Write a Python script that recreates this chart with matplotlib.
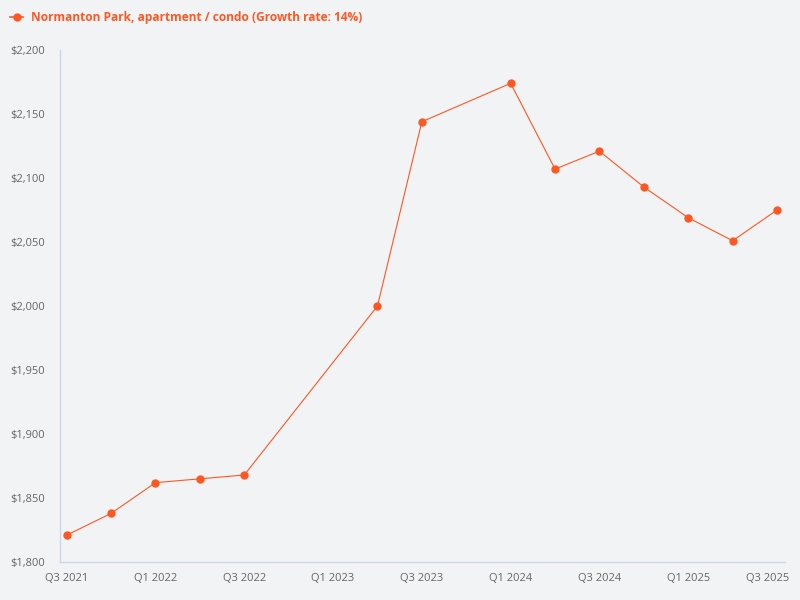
import matplotlib
matplotlib.use("Agg")
import matplotlib.pyplot as plt
from matplotlib.lines import Line2D
import matplotlib.transforms as mtransforms

plt.rcParams['font.family'] = ['Open Sans', 'DejaVu Sans']

quarters = ["Q3 2021", "Q4 2021", "Q1 2022", "Q2 2022", "Q3 2022", "Q4 2022",
            "Q1 2023", "Q2 2023", "Q3 2023", "Q4 2023", "Q1 2024", "Q2 2024",
            "Q3 2024", "Q4 2024", "Q1 2025", "Q2 2025", "Q3 2025"]
data_quarters = ["Q3 2021", "Q4 2021", "Q1 2022", "Q2 2022", "Q3 2022",
                 "Q2 2023", "Q3 2023", "Q1 2024", "Q2 2024", "Q3 2024",
                 "Q4 2024", "Q1 2025", "Q2 2025", "Q3 2025"]
prices = [1821, 1838, 1862, 1865, 1868, 2000, 2144, 2174, 2107, 2121,
          2093, 2069, 2051, 2075]
y_ticks = [1800, 1850, 1900, 1950, 2000, 2050, 2100, 2150, 2200]
x_tick_labels = ["Q3 2021", "Q1 2022", "Q3 2022", "Q1 2023", "Q3 2023",
                 "Q1 2024", "Q3 2024", "Q1 2025", "Q3 2025"]
series_name = "Normanton Park, apartment / condo (Growth rate: 14%)"

color = "#ff5722"
bg = "#f2f3f5"

fig = plt.figure(figsize=(8, 6), dpi=100, facecolor=bg)
ax = fig.add_axes([0.075, 0.0633, 0.90625, 0.8533], facecolor=bg)

xs = [quarters.index(q) for q in data_quarters]
ax.plot(xs, prices, color=color, linewidth=0.8, marker='o', markersize=6,
        markeredgewidth=0, zorder=3)

ax.set_xlim(-0.151, 16.18)
ax.set_ylim(1800, 2200)
ax.set_yticks(y_ticks)
ax.set_yticklabels([f"${v:,}" for v in y_ticks])
ax.set_xticks([quarters.index(q) for q in x_tick_labels])
ax.set_xticklabels(x_tick_labels)
ax.tick_params(axis='both', length=0, labelsize=8, colors="#666666")
ax.tick_params(axis='y', pad=11)
ax.tick_params(axis='x', pad=8)
for s in ['top', 'right']:
    ax.spines[s].set_visible(False)
for s in ['left', 'bottom']:
    ax.spines[s].set_color("#ccd6eb")
    ax.spines[s].set_linewidth(1)

# keep last x label inside the figure
last = ax.get_xticklabels()[-1]
last.set_transform(last.get_transform() +
                   mtransforms.ScaledTranslation(-9/100, 0, fig.dpi_scale_trans))

# legend-like title
fig.add_artist(Line2D([10/800, 23/800], [1-17/600, 1-17/600], color=color,
                      linewidth=1.2, transform=fig.transFigure))
fig.add_artist(Line2D([16.5/800], [1-17/600], color=color, marker='o',
                      markersize=6, markeredgewidth=0, transform=fig.transFigure))
fig.text(31/800, 1-17/600, series_name, color=color, fontsize=8.6,
         fontweight='bold', va='center', ha='left')

fig.savefig("out.png", dpi=100, facecolor=bg)
